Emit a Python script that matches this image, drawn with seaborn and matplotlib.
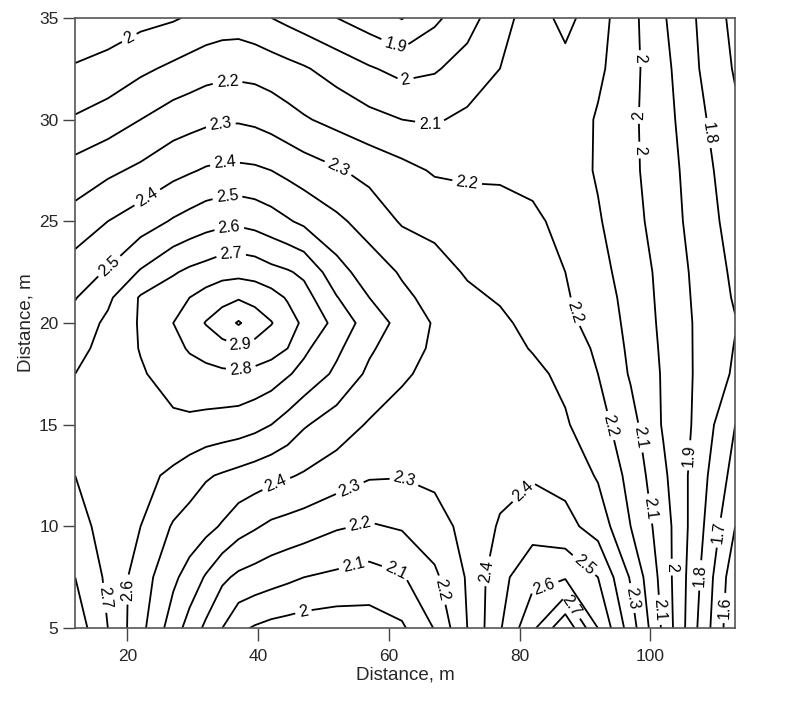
import numpy as np
import matplotlib
matplotlib.use("Agg")
import matplotlib.pyplot as plt
import seaborn as sns

# grid of the survey (metres), denser around the high near x=37, y=20
x_m = [12, 17, 22, 27, 29.5, 32, 34.5, 37, 39.5, 42, 44.5, 47, 52, 57, 62, 67, 72, 77, 82, 87, 92, 97, 102, 107, 113]
y_m = [5, 7.5, 10, 12.5, 15, 17.5, 18.75, 20, 21.25, 22.5, 25, 27.5, 30, 32.5, 35]

# values, one row per y
row_y05 = [2.86, 2.70, 2.53, 2.35, 2.26, 2.18, 2.10, 2.02, 1.99, 1.97, 1.96, 1.95, 1.94, 1.95, 1.985, 2.105, 2.30, 2.49, 2.68, 2.88, 2.60, 2.35, 2.08, 1.81, 1.51]
row_y075 = [2.80, 2.68, 2.55, 2.42, 2.36, 2.29, 2.22, 2.18, 2.16, 2.14, 2.12, 2.10, 2.08, 2.06, 2.09, 2.18, 2.31, 2.47, 2.57, 2.59, 2.50, 2.29, 2.06, 1.83, 1.53]
row_y10 = [2.73, 2.67, 2.60, 2.49, 2.46, 2.43, 2.39, 2.34, 2.31, 2.28, 2.265, 2.25, 2.21, 2.19, 2.21, 2.26, 2.33, 2.41, 2.46, 2.43, 2.36, 2.20, 2.05, 1.85, 1.60]
row_y125 = [2.70, 2.67, 2.63, 2.58, 2.545, 2.51, 2.49, 2.47, 2.45, 2.43, 2.41, 2.39, 2.35, 2.31, 2.305, 2.32, 2.34, 2.37, 2.39, 2.37, 2.29, 2.17, 2.02, 1.86, 1.66]
row_y15 = [2.65, 2.66, 2.67, 2.68, 2.68, 2.67, 2.66, 2.65, 2.63, 2.60, 2.56, 2.51, 2.45, 2.39, 2.37, 2.36, 2.35, 2.34, 2.33, 2.31, 2.24, 2.135, 1.99, 1.885, 1.70]
row_y175 = [2.60, 2.65, 2.69, 2.74, 2.76, 2.77, 2.78, 2.785, 2.77, 2.75, 2.71, 2.67, 2.58, 2.48, 2.41, 2.38, 2.36, 2.34, 2.32, 2.28, 2.20, 2.09, 1.99, 1.89, 1.785]
row_y1875 = [2.57, 2.635, 2.705, 2.77, 2.81, 2.84, 2.87, 2.885, 2.87, 2.84, 2.80, 2.72, 2.62, 2.515, 2.44, 2.385, 2.355, 2.33, 2.295, 2.25, 2.185, 2.08, 1.985, 1.89, 1.795]
row_y20 = [2.54, 2.62, 2.71, 2.80, 2.85, 2.905, 2.95, 3.01, 2.95, 2.905, 2.845, 2.78, 2.67, 2.55, 2.47, 2.39, 2.35, 2.32, 2.27, 2.22, 2.17, 2.07, 1.98, 1.89, 1.805]
row_y2125 = [2.495, 2.58, 2.71, 2.76, 2.80, 2.84, 2.87, 2.89, 2.87, 2.84, 2.79, 2.74, 2.605, 2.50, 2.42, 2.37, 2.32, 2.29, 2.255, 2.21, 2.15, 2.065, 1.975, 1.885, 1.79]
row_y225 = [2.45, 2.51, 2.61, 2.69, 2.72, 2.74, 2.765, 2.77, 2.76, 2.73, 2.71, 2.68, 2.54, 2.45, 2.39, 2.34, 2.29, 2.26, 2.24, 2.20, 2.13, 2.06, 1.97, 1.88, 1.78]
row_y25 = [2.34, 2.40, 2.45, 2.51, 2.535, 2.56, 2.575, 2.58, 2.565, 2.54, 2.51, 2.48, 2.42, 2.36, 2.29, 2.27, 2.26, 2.25, 2.22, 2.17, 2.11, 2.03, 1.96, 1.86, 1.76]
row_y275 = [2.24, 2.28, 2.32, 2.37, 2.39, 2.41, 2.42, 2.42, 2.415, 2.40, 2.375, 2.35, 2.31, 2.27, 2.23, 2.19, 2.18, 2.18, 2.17, 2.15, 2.09, 2.02, 1.95, 1.85, 1.74]
row_y30 = [2.11, 2.15, 2.20, 2.25, 2.265, 2.28, 2.29, 2.29, 2.28, 2.26, 2.235, 2.21, 2.17, 2.13, 2.10, 2.09, 2.12, 2.15, 2.17, 2.16, 2.09, 2.02, 1.94, 1.83, 1.72]
row_y325 = [2.01, 2.03, 2.08, 2.12, 2.14, 2.16, 2.17, 2.17, 2.165, 2.15, 2.13, 2.11, 2.06, 2.01, 1.97, 1.99, 2.04, 2.10, 2.14, 2.17, 2.12, 2.03, 1.93, 1.81, 1.69]
row_y35 = [1.92, 1.95, 1.97, 1.99, 2.01, 2.03, 2.045, 2.05, 2.03, 2.00, 1.975, 1.95, 1.90, 1.85, 1.795, 1.88, 1.96, 2.06, 2.15, 2.23, 2.14, 2.03, 1.91, 1.80, 1.67]

levels = [1.5, 1.6, 1.7, 1.8, 1.9, 2.0, 2.1, 2.2, 2.3, 2.4, 2.5, 2.6, 2.7, 2.8, 2.9, 3.0]

z = np.array([row_y05, row_y075, row_y10, row_y125, row_y15, row_y175, row_y1875, row_y20,
              row_y2125, row_y225, row_y25, row_y275, row_y30, row_y325, row_y35])

# where the labels sit on the lines
label_spots = [(20.3, 34.0), (60.9, 33.6), (62.5, 32.0), (66.3, 29.8),
               (35.3, 31.6), (34.4, 29.6), (34.9, 27.8), (35.3, 26.1), (35.6, 24.6), (35.9, 23.2),
               (22.6, 26.4), (17.2, 22.8), (52.5, 27.8), (71.8, 26.6),
               (37.3, 18.9), (37.3, 17.8),
               (98.5, 33.0), (98.5, 30.2), (98.5, 28.5), (108.1, 29.3),
               (89.0, 20.6), (94.5, 15.0), (99.2, 14.4), (105.7, 13.5), (100.5, 10.9),
               (110.3, 9.7), (103.4, 8.0), (107.4, 7.6), (97.7, 6.5), (101.5, 5.9), (110.7, 6.0),
               (43.0, 11.9), (54.0, 11.9), (62.5, 12.4), (55.6, 10.1), (54.5, 8.2), (61.2, 7.9),
               (47.1, 5.6), (16.8, 6.5), (20.0, 6.9), (68.6, 6.9),
               (75.0, 7.8), (80.4, 11.8), (89.6, 8.0), (83.6, 7.2), (88.5, 6.2)]

sns.set_style("ticks")
plt.rcParams["font.family"] = ["Liberation Sans", "DejaVu Sans"]

fig = plt.figure(figsize=(8, 7.13), dpi=100)
ax = fig.add_axes([0.094, 0.119, 0.825, 0.856])

cs = ax.contour(x_m, y_m, z, levels=levels, colors="black", linewidths=1.3)
ax.clabel(cs, fmt="%g", fontsize=11.5, inline=True, inline_spacing=4, manual=label_spots)

ax.set_xlim(12, 113)
ax.set_ylim(5, 35)
ax.set_xticks([20, 40, 60, 80, 100])
ax.set_yticks([5, 10, 15, 20, 25, 30, 35])
ax.tick_params(axis="both", labelsize=12.5, length=9, width=1, color="#444444", direction="out")
ax.tick_params(axis="x", pad=6)
ax.tick_params(axis="y", pad=3)
for s in ax.spines.values():
    s.set_color("#555555")
    s.set_linewidth(1.2)

ax.set_xlabel("Distance, m", fontsize=13.5, labelpad=2)
ax.set_ylabel("Distance, m", fontsize=13.5, labelpad=3)

fig.savefig("out.png", dpi=100)
